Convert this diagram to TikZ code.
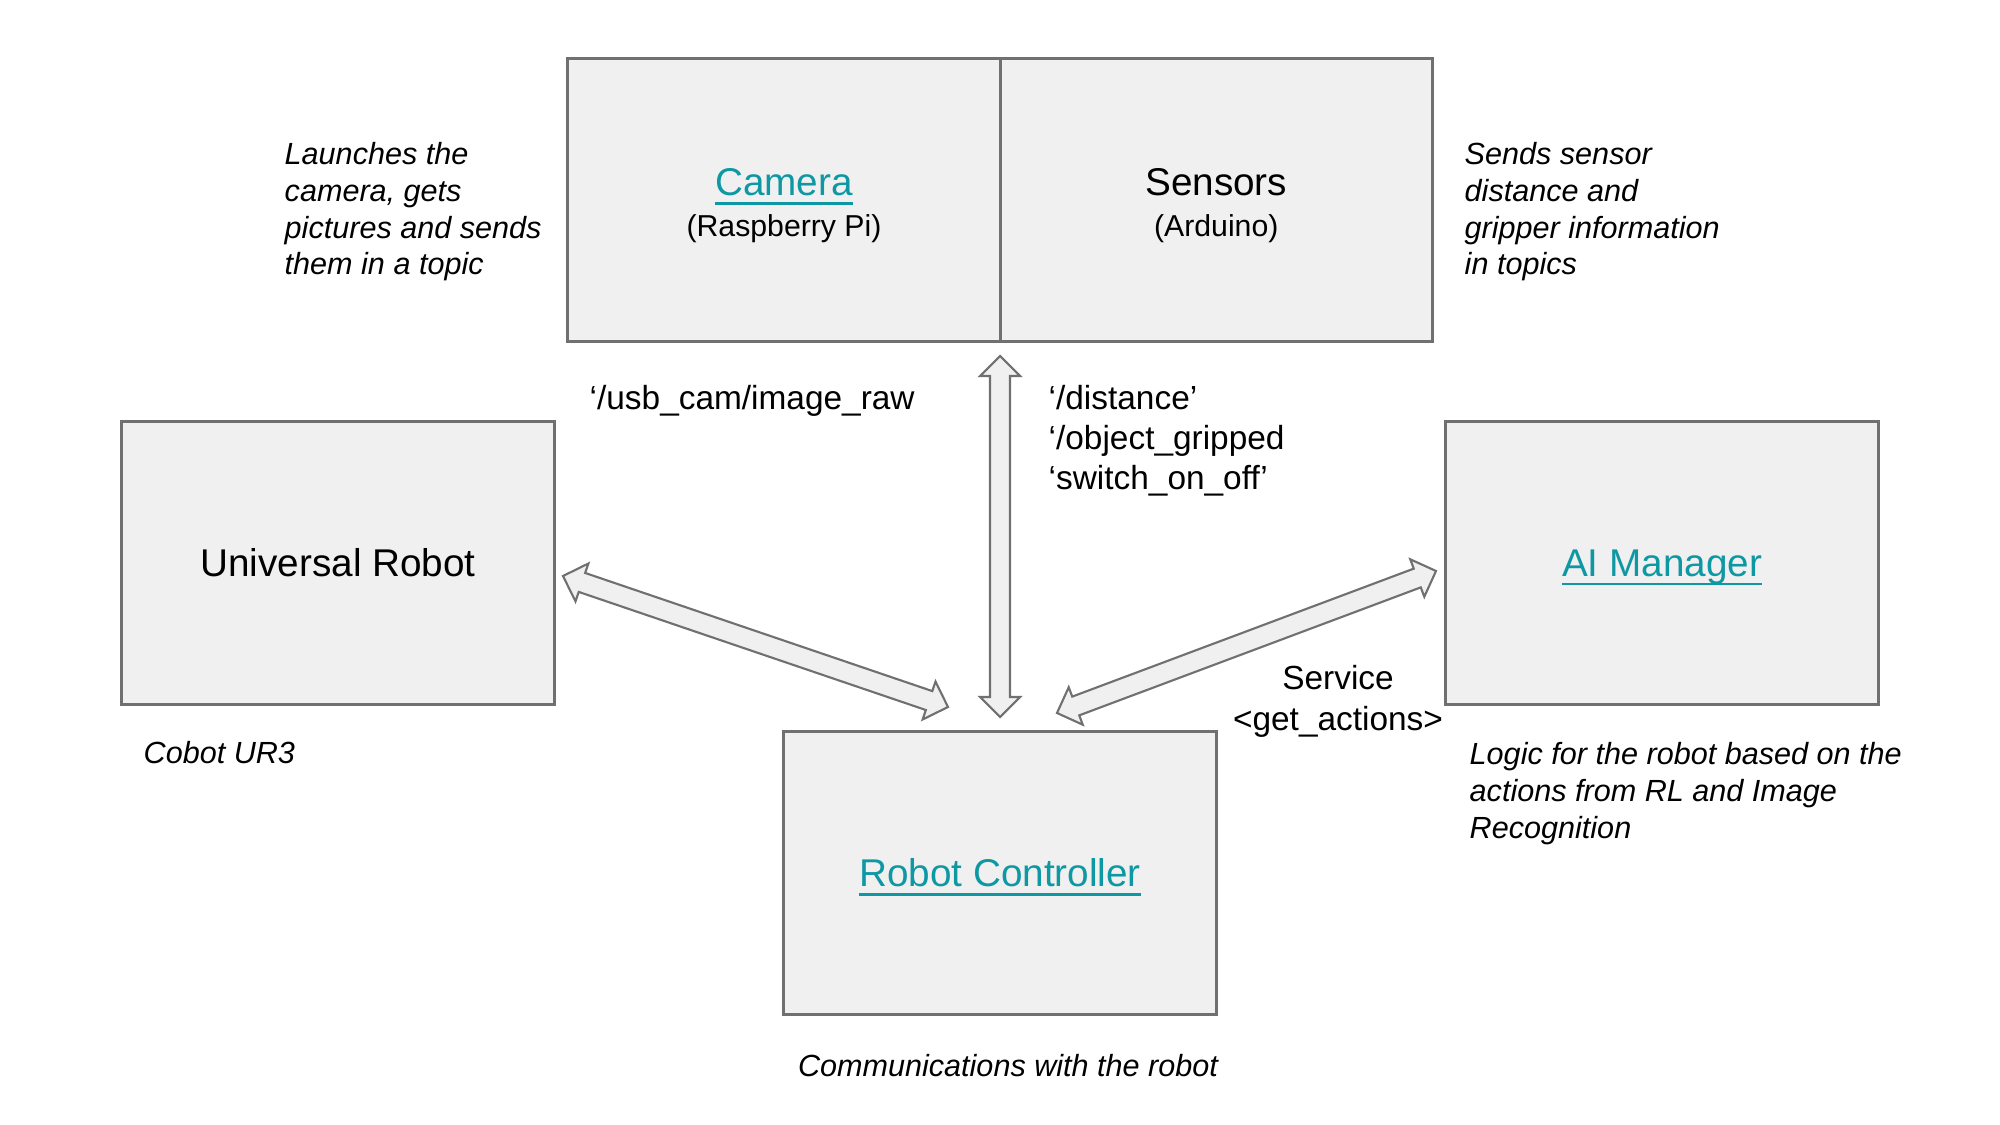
\documentclass[tikz,border=0pt]{standalone}
\usepackage{fontspec}
\setmainfont{Liberation Sans}
\usetikzlibrary{positioning,calc}

\definecolor{boxfill}{RGB}{240,240,240}
\definecolor{boxline}{RGB}{112,112,112}
\definecolor{linkteal}{RGB}{14,152,164}

\newcommand\labfont{\fontsize{11}{13}\selectfont}
\newcommand\subfont{\fontsize{8.6}{10}\selectfont}
\newcommand\notefont{\itshape\fontsize{8.7}{10.5}\selectfont}
\newcommand\topicfont{\fontsize{9.5}{11.4}\selectfont}
\newsavebox\lnkbox
\newcommand\lnk[1]{\sbox\lnkbox{\color{linkteal}#1}\textcolor{linkteal}{\rlap{\smash{\rule[-2.6pt]{\wd\lnkbox}{0.8pt}}}\usebox\lnkbox}}

\begin{document}
\begin{tikzpicture}[x=0.01cm,y=-0.01cm,
  blockbox/.style={draw=boxline,fill=boxfill,line width=0.8pt,minimum width=4.32cm,minimum height=2.83cm,inner sep=0pt,outer sep=0pt,align=center,font=\labfont},
  notetxt/.style={font=\notefont,align=left,anchor=base west,inner sep=0pt},
  topictxt/.style={font=\topicfont,align=left,anchor=base west,inner sep=0pt},
  blockarrow/.style={draw=boxline,fill=boxfill,line width=0.6pt,line join=miter}]
\def\headl{0.2cm}%length of arrow head
\def\headw{0.2cm}%half width of arrow head
\def\shaftw{0.1cm}%half width of shaft

\useasboundingbox (0,0) rectangle (2000,1125);

%Boxes
\node[blockbox] (cam) at (784,200) {\rule{0pt}{11pt}\lnk{Camera}\\[-1.5pt]{\subfont (Raspberry Pi)}};
\node[blockbox,right=0pt of cam] (sens) {\rule{0pt}{11pt}Sensors\\[-1.5pt]{\subfont (Arduino)}};
\node[blockbox] (ur) at (338,563) {Universal Robot};
\node[blockbox,text depth=0pt] (ai) at (1662,563) {\lnk{AI Manager}};
\node[blockbox] (rc) at (1000,873) {\lnk{Robot Controller}};

%Notes (base = last line)
\node[notetxt] (launch) at (284,275) {Launches the\\camera, gets\\pictures and sends\\them in a topic};
\node[notetxt] (sendinfo) at (1464,275) {Sends sensor\\distance and\\gripper information\\in topics};
\node[notetxt] (cobot) at (143,764) {Cobot UR3};
\node[notetxt] (logic) at (1469,838) {Logic for the robot based on the\\actions from RL and Image\\Recognition};
\node[notetxt,anchor=base] (comm) at (1008,1076) {Communications with the robot};

%Topics
\node[topictxt] (usbcam) at (589,410) {‘/usb\_cam/image\_raw};
\node[topictxt] (senstopics) at (1048,490) {‘/distance’\\‘/object\_gripped\\‘switch\_on\_off’};
\node[topictxt,align=center,anchor=base] (service) at (1338,730) {Service\\\textless get\_actions\textgreater};

%Arrows
\coordinate (urtip) at (563,576);
\coordinate (rcleft) at (948,707);
\coordinate (camtip) at (1000,356);
\coordinate (rcmid) at (1000,717);
\coordinate (aitip) at (1436,571);
\coordinate (rcright) at (1057,713);
\foreach \ea/\eb in {urtip/rcleft,camtip/rcmid,aitip/rcright}{
    \draw[blockarrow] (\ea)
      -- ($(\ea)!\headl!(\eb)!\headw!90:(\eb)$)
      -- ($(\ea)!\headl!(\eb)!\shaftw!90:(\eb)$)
      -- ($(\eb)!\headl!(\ea)!\shaftw!-90:(\ea)$)
      -- ($(\eb)!\headl!(\ea)!\headw!-90:(\ea)$)
      -- (\eb)
      -- ($(\eb)!\headl!(\ea)!\headw!90:(\ea)$)
      -- ($(\eb)!\headl!(\ea)!\shaftw!90:(\ea)$)
      -- ($(\ea)!\headl!(\eb)!\shaftw!-90:(\eb)$)
      -- ($(\ea)!\headl!(\eb)!\headw!-90:(\eb)$)
      -- cycle;
}
\end{tikzpicture}
\end{document}
